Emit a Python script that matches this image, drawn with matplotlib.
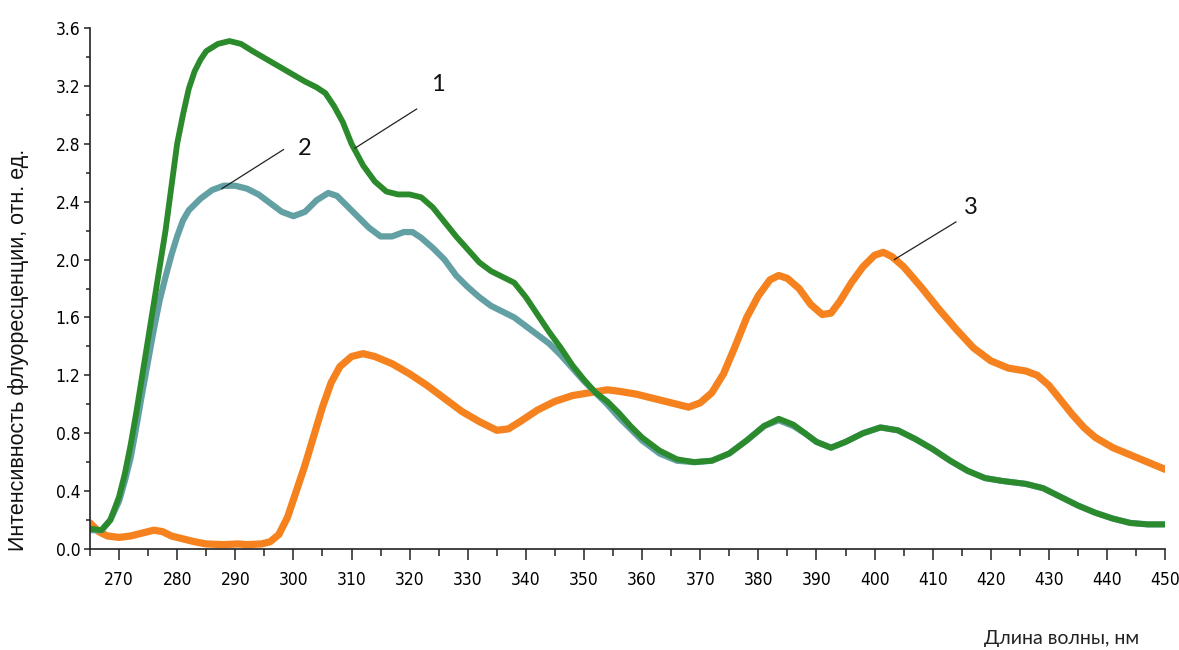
import matplotlib
matplotlib.use("Agg")
import matplotlib.pyplot as plt
from matplotlib import font_manager
from matplotlib.ticker import MultipleLocator, FormatStrFormatter

# --- spectra: wavelength (nm) and fluorescence intensity (rel. units) ---
wl_1 = [265, 267, 268.5, 270, 271, 272, 273, 274, 275, 276, 277, 278, 279, 280, 281, 282,
        283, 284, 285, 287, 289, 291, 293, 296, 299, 302, 304, 305.5, 307, 308.5, 310, 312,
        314, 316, 318, 320, 322, 324, 326, 328, 330, 332, 334, 336, 338, 340, 342, 344, 346,
        348, 350, 352, 354, 356, 358, 360, 363, 366, 369, 372, 375, 378, 381, 383.5, 386, 388,
        390, 392.5, 395, 398, 401, 404, 407, 410, 413, 416, 419, 422, 426, 429, 432, 435, 438,
        441, 444, 447, 450]
int_1 = [0.14, 0.13, 0.20, 0.36, 0.52, 0.72, 0.95, 1.20, 1.45, 1.70, 1.95, 2.20, 2.50, 2.80,
         3.00, 3.18, 3.30, 3.38, 3.44, 3.49, 3.51, 3.49, 3.44, 3.37, 3.30, 3.23, 3.19, 3.15,
         3.06, 2.95, 2.80, 2.65, 2.54, 2.47, 2.45, 2.45, 2.43, 2.36, 2.26, 2.16, 2.07, 1.98,
         1.92, 1.88, 1.84, 1.74, 1.62, 1.50, 1.39, 1.27, 1.17, 1.08, 1.02, 0.94, 0.85, 0.77,
         0.68, 0.62, 0.60, 0.61, 0.66, 0.75, 0.85, 0.90, 0.86, 0.80, 0.74, 0.70, 0.74, 0.80,
         0.84, 0.82, 0.76, 0.69, 0.61, 0.54, 0.49, 0.47, 0.45, 0.42, 0.36, 0.30, 0.25, 0.21,
         0.18, 0.17, 0.17]

wl_2 = [265, 267, 268.5, 270, 271, 272, 273, 274, 275, 276, 277, 278, 279, 280, 281, 282,
        284, 286, 288, 290, 292, 294, 296, 298, 300, 302, 304, 306, 307.5, 309, 311, 313, 315,
        317, 319, 320.5, 322, 324, 326, 328, 330, 332, 334, 336, 338, 340, 342, 344, 346, 348,
        350, 352, 354, 356, 358, 360, 363, 366, 369, 372, 375, 378, 381, 383.5, 386, 388, 390,
        392.5, 395, 398, 401, 404, 407, 410, 413, 416, 419, 422, 426, 429, 432, 435, 438, 441,
        444, 447, 450]
int_2 = [0.13, 0.13, 0.20, 0.33, 0.47, 0.63, 0.85, 1.08, 1.30, 1.52, 1.72, 1.88, 2.03, 2.16,
         2.27, 2.34, 2.42, 2.48, 2.51, 2.51, 2.49, 2.45, 2.39, 2.33, 2.30, 2.33, 2.41, 2.46,
         2.44, 2.38, 2.30, 2.22, 2.16, 2.16, 2.19, 2.19, 2.15, 2.08, 2.00, 1.89, 1.81, 1.74,
         1.68, 1.64, 1.60, 1.54, 1.48, 1.42, 1.34, 1.25, 1.16, 1.08, 1.00, 0.91, 0.83, 0.75,
         0.66, 0.61, 0.60, 0.61, 0.66, 0.75, 0.85, 0.89, 0.85, 0.80, 0.74, 0.70, 0.74, 0.80,
         0.84, 0.82, 0.76, 0.69, 0.61, 0.54, 0.49, 0.47, 0.45, 0.42, 0.36, 0.30, 0.25, 0.21,
         0.18, 0.17, 0.17]

wl_3 = [265, 266.5, 268, 270, 272, 274, 276, 277.5, 279, 281, 283, 285, 288, 290.5, 292,
        294.5, 296, 297.5, 299, 300.5, 302, 303.5, 305, 306.5, 308, 310, 312, 314, 317, 320,
        323, 326, 329, 332, 335, 337, 339, 342, 345, 348, 351, 354, 356, 359, 362, 365, 368,
        370, 372, 374, 376, 378, 380, 382, 383.5, 385, 387, 389, 391, 392.5, 394, 396, 398,
        400, 401.5, 403, 405, 408, 411, 414, 417, 420, 423, 426, 428, 430, 432, 434, 436, 438,
        441, 444, 447, 450]
int_3 = [0.18, 0.12, 0.09, 0.08, 0.09, 0.11, 0.13, 0.12, 0.09, 0.07, 0.05, 0.035, 0.03,
         0.035, 0.03, 0.035, 0.05, 0.10, 0.22, 0.40, 0.58, 0.78, 0.98, 1.15, 1.26, 1.33, 1.35,
         1.33, 1.28, 1.21, 1.13, 1.04, 0.95, 0.88, 0.82, 0.83, 0.88, 0.96, 1.02, 1.06, 1.08,
         1.10, 1.09, 1.07, 1.04, 1.01, 0.98, 1.01, 1.08, 1.21, 1.40, 1.60, 1.75, 1.86, 1.89,
         1.87, 1.80, 1.69, 1.62, 1.63, 1.71, 1.84, 1.95, 2.03, 2.05, 2.02, 1.95, 1.81, 1.66,
         1.52, 1.39, 1.30, 1.25, 1.23, 1.20, 1.13, 1.03, 0.93, 0.84, 0.77, 0.70, 0.65, 0.60,
         0.55]

x_ticks = list(range(270, 451, 10))
x_label = "Длина волны, нм"
y_label = "Интенсивность флуоресценции, отн. ед."


def pick_font(candidates):
    names = {f.name for f in font_manager.fontManager.ttflist}
    for c in candidates:
        if c in names:
            return c
    return "DejaVu Sans"


tick_font = pick_font(["Liberation Sans Narrow", "DejaVu Sans"])
label_font = pick_font(["Liberation Sans", "Arial", "DejaVu Sans"])
note_font = pick_font(["Lato", "Open Sans", "DejaVu Sans"])

fig = plt.figure(figsize=(11.79, 6.5), dpi=100)
ax = fig.add_axes([0.0763, 0.1554, 0.912, 0.8015])

c_green = "#2b8a2b"
c_teal = "#62a0a4"
c_orange = "#f5821f"

style = dict(solid_joinstyle="round", solid_capstyle="round")
ax.plot(wl_3, int_3, color=c_orange, lw=5.2, **style)
ax.plot(wl_2, int_2, color=c_teal, lw=4.5, **style)
ax.plot(wl_1, int_1, color=c_green, lw=4.2, **style)

ax.set_xlim(265, 450)
ax.set_ylim(0, 3.6)

for s in ("top", "right"):
    ax.spines[s].set_visible(False)
for s in ("left", "bottom"):
    ax.spines[s].set_linewidth(1.2)
    ax.spines[s].set_color("#222222")

ax.set_xticks(x_ticks)
ax.xaxis.set_minor_locator(MultipleLocator(5))
ax.yaxis.set_major_locator(MultipleLocator(0.4))
ax.yaxis.set_minor_locator(MultipleLocator(0.2))
ax.yaxis.set_major_formatter(FormatStrFormatter("%.1f"))

ax.tick_params(axis="x", which="major", direction="out", length=8, width=1.1,
               pad=8, labelsize=12.5, color="#222222")
ax.tick_params(axis="x", which="minor", direction="out", length=5, width=1.1, color="#222222")
ax.tick_params(axis="y", which="major", direction="out", length=4, width=1.1,
               pad=3, labelsize=12.5, color="#222222")
ax.tick_params(axis="y", which="minor", direction="out", length=3, width=1.1, color="#222222")
for lab in ax.get_xticklabels() + ax.get_yticklabels():
    lab.set_fontfamily(tick_font)
    lab.set_fontstretch("condensed")

fig.text(0.0153, 0.462, y_label, rotation=90, ha="center", va="center",
         fontsize=15.5, family=label_font, color="#111111")
fig.text(0.9, 0.005, x_label, ha="center", va="bottom",
         fontsize=14, family=note_font, color="#222222")

# leader lines to the curves with their numbers
notes = [("1", (310.6, 2.77), (321.2, 3.04), (324.9, 3.21)),
         ("2", (287.7, 2.49), (298.3, 2.76), (302.0, 2.77)),
         ("3", (403.4, 2.00), (414.0, 2.26), (416.6, 2.36))]
for txt, tip, end, pos in notes:
    ax.plot([tip[0], end[0]], [tip[1], end[1]], color="#222222", lw=0.9)
    ax.text(pos[0], pos[1], txt, ha="center", va="center", fontsize=17,
            family=note_font, color="#111111")

fig.savefig("out.png", dpi=100)
